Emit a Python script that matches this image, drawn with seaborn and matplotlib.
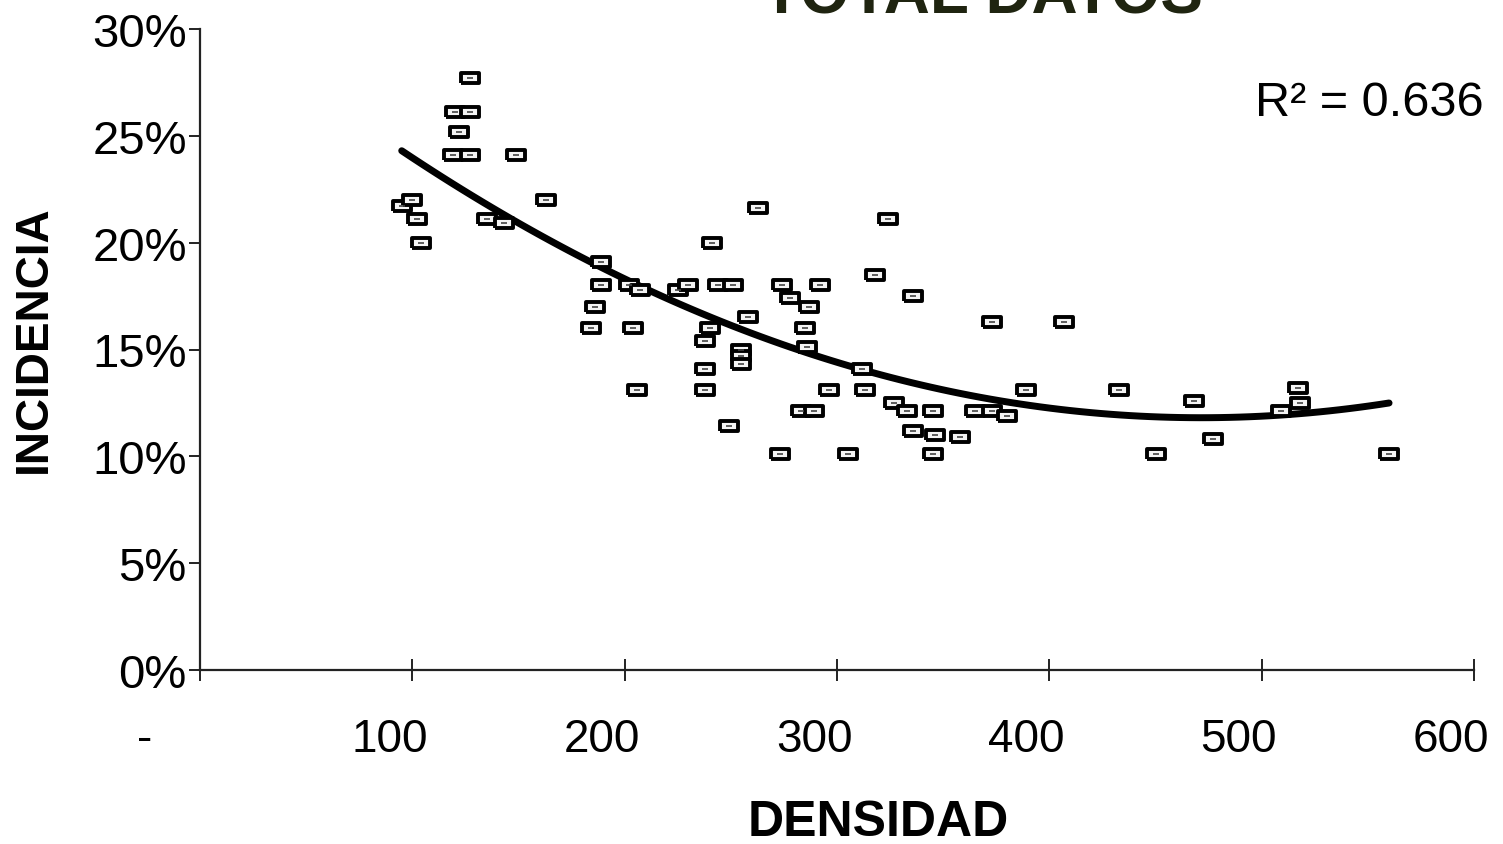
import matplotlib
matplotlib.use('Agg')
import matplotlib.pyplot as plt
import seaborn as sns
import pandas as pd
from matplotlib.transforms import ScaledTranslation

# ---- data ----
densidad = [95, 100, 102, 104, 127, 120, 127, 122, 119, 127, 149, 135, 143, 163,
            189, 189, 202, 207, 225, 230, 244, 251, 274, 292, 278, 287, 186, 258,
            184, 204, 240, 238, 285, 255, 255, 255, 286, 238, 312, 206, 238, 296,
            313, 283, 289, 249, 273, 305, 263, 241,
            324, 318, 336, 373, 407, 327, 333, 345, 365, 373, 380, 389, 433, 336,
            346, 358, 345,
            468, 517, 518, 509, 477, 450, 560]
incidencia_pct = [21.7, 22.0, 21.1, 20.0, 27.7, 26.1, 26.1, 25.2, 24.1, 24.1, 24.1, 21.1, 20.9, 22.0,
                  19.1, 18.0, 18.0, 17.8, 17.8, 18.0, 18.0, 18.0, 18.0, 18.0, 17.4, 17.0, 17.0, 16.5,
                  16.0, 16.0, 16.0, 15.4, 16.0, 15.0, 14.7, 14.3, 15.1, 14.1, 14.1, 13.1, 13.1, 13.1,
                  13.1, 12.1, 12.1, 11.4, 10.1, 10.1, 21.6, 20.0,
                  21.1, 18.5, 17.5, 16.3, 16.3, 12.5, 12.1, 12.1, 12.1, 12.1, 11.9, 13.1, 13.1, 11.2,
                  11.0, 10.9, 10.1,
                  12.6, 13.2, 12.5, 12.1, 10.8, 10.1, 10.1]
x_ticks = [0, 100, 200, 300, 400, 500, 600]
x_tick_labels = ['-', '100', '200', '300', '400', '500', '600']
y_ticks = [0.00, 0.05, 0.10, 0.15, 0.20, 0.25, 0.30]
y_tick_labels = ['0%', '5%', '10%', '15%', '20%', '25%', '30%']
title = 'TOTAL DATOS'
r2_text = 'R² = 0.636'

df = pd.DataFrame({'DENSIDAD': densidad,
                   'INCIDENCIA': [v / 100 for v in incidencia_pct]})

sns.set_theme(style='ticks')
plt.rcParams['font.family'] = ['Liberation Sans', 'DejaVu Sans']

fig = plt.figure(figsize=(15.03, 8.45), dpi=100)
ax = fig.add_axes([200 / 1503, 174 / 845, 1274 / 1503, 641 / 845])

sns.regplot(data=df, x='DENSIDAD', y='INCIDENCIA', order=2, ci=None, scatter=False,
            line_kws=dict(color='black', lw=5, zorder=2), ax=ax)

rect = [(-1.8, -1), (1.8, -1), (1.8, 1), (-1.8, 1), (-1.8, -1)]
sns.scatterplot(data=df, x='DENSIDAD', y='INCIDENCIA', marker=rect, s=150,
                color='#f4f4f4', edgecolor='black', linewidth=2.8, zorder=3, ax=ax)
sns.scatterplot(data=df, x='DENSIDAD', y='INCIDENCIA', marker='_', s=16,
                color='#444444', linewidth=1.2, zorder=4, ax=ax)

ax.set_xlim(0, 600)
ax.set_ylim(0, 0.30)
for s in ('top', 'right'):
    ax.spines[s].set_visible(False)
for s in ('left', 'bottom'):
    ax.spines[s].set_color('#222222')
    ax.spines[s].set_linewidth(1.6)

ax.set_xticks(x_ticks, x_tick_labels)
ax.set_yticks(y_ticks, y_tick_labels)
ax.tick_params(axis='x', direction='inout', length=16, width=1.4, color='#222222',
               pad=26, labelsize=33, labelcolor='black')
ax.tick_params(axis='y', direction='out', length=8, width=1.4, color='#222222',
               pad=1.5, labelsize=34, labelcolor='black')

for i, lab in enumerate(ax.get_xticklabels()):
    dx = -0.55 if i == 0 else -0.23
    lab.set_transform(lab.get_transform() + ScaledTranslation(dx, 0, fig.dpi_scale_trans))

ax.set_xlabel('DENSIDAD', fontsize=36, fontweight='bold', color='black')
ax.xaxis.set_label_coords((878 - 200) / 1274, (671 - 800) / 641)
ax.set_ylabel('INCIDENCIA', fontsize=33, fontweight='bold', color='black')
ax.yaxis.set_label_coords((56 - 200) / 1274, (671 - 339) / 641)

ax.text(1.0077, (671 - 103) / 641, r2_text, transform=ax.transAxes,
        ha='right', va='center', fontsize=35, color='black')

fig.text(982 / 1503, (845 - 14) / 845, title, ha='center', va='baseline',
         fontsize=46, fontweight='bold', color='#1f2410')

fig.savefig('out.png', dpi=100, facecolor='white')
